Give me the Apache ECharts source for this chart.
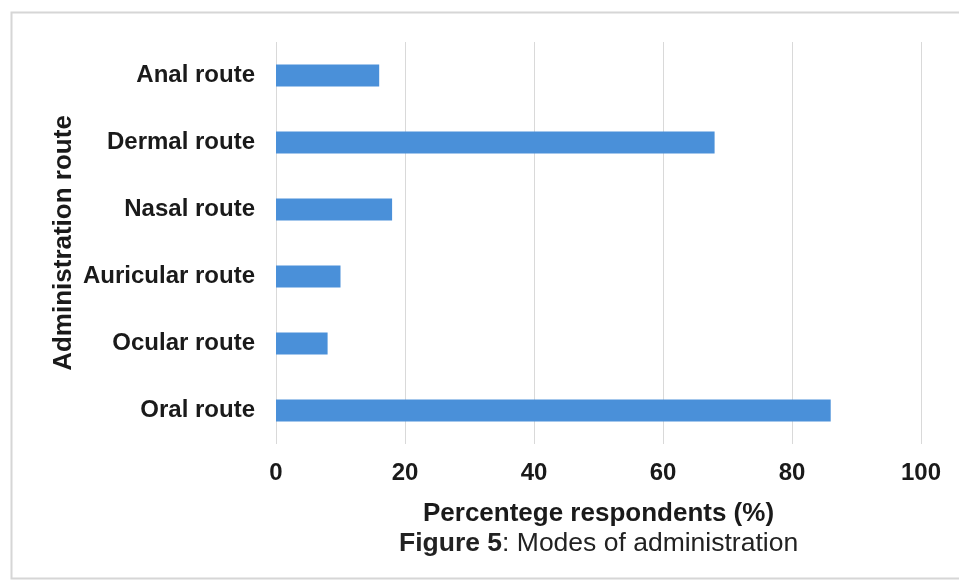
<!DOCTYPE html>
<html>
<head>
<meta charset="utf-8">
<script src="https://cdn.jsdelivr.net/npm/echarts@6/dist/echarts.min.js"></script>
<style>
  html, body { margin: 0; padding: 0; background: #ffffff; }
  #chart { width: 959px; height: 583px; }
</style>
</head>
<body>
<div id="chart"></div>
<script>
// Routes listed bottom-to-top as drawn on the category axis
const routes = ['Oral route', 'Ocular route', 'Auricular route', 'Nasal route', 'Dermal route', 'Anal route'];
// Percentage of respondents using each route
const percentages = [86, 8, 10, 18, 68, 16];
// Value-axis ticks
const xTicks = [0, 20, 40, 60, 80, 100];

const FONT = '"Liberation Sans", Arial, sans-serif';
const chart = echarts.init(document.getElementById('chart'), null, { renderer: 'canvas' });

chart.setOption({
  animation: false,
  backgroundColor: '#ffffff',
  grid: { left: 276, right: 38, top: 42, bottom: 139, containLabel: false },
  title: {
    text: '{b|Figure 5}: Modes of administration',
    left: 399,
    top: 530,
    padding: 0,
    textStyle: {
      fontFamily: FONT, fontSize: 26.5, fontWeight: 'normal', color: '#222222',
      rich: { b: { fontFamily: FONT, fontSize: 26.5, fontWeight: 'bold', color: '#222222' } }
    }
  },
  graphic: [{
    type: 'rect',
    shape: { x: 11.5, y: 12.5, width: 960, height: 566 },
    style: { fill: 'none', stroke: '#d6d6d6', lineWidth: 2 },
    silent: true, z: -1
  }],
  xAxis: {
    type: 'value',
    min: xTicks[0],
    max: xTicks[xTicks.length - 1],
    interval: 20,
    name: 'Percentege respondents (%)',
    nameLocation: 'middle',
    nameGap: 57,
    nameMoveOverlap: false,
    nameTextStyle: { fontFamily: FONT, fontSize: 26, fontWeight: 'bold', color: '#1a1a1a' },
    axisLine: { show: false },
    axisTick: { show: false },
    axisLabel: { margin: 17, fontFamily: FONT, fontSize: 24, fontWeight: 'bold', color: '#1a1a1a' },
    splitLine: { show: true, lineStyle: { color: '#d9d9d9', width: 1 } }
  },
  yAxis: {
    type: 'category',
    data: routes,
    name: 'Administration route',
    nameLocation: 'middle',
    nameGap: 199,
    nameMoveOverlap: false,
    nameRotate: 90,
    nameTextStyle: { fontFamily: FONT, fontSize: 26, fontWeight: 'bold', color: '#1a1a1a' },
    axisLine: { show: false },
    axisTick: { show: false },
    axisLabel: { margin: 21, fontFamily: FONT, fontSize: 24, fontWeight: 'bold', color: '#1a1a1a' },
    splitLine: { show: false }
  },
  series: [{
    type: 'bar',
    data: percentages,
    barWidth: 22,
    itemStyle: { color: '#4a90d9' }
  }]
});
</script>
</body>
</html>
